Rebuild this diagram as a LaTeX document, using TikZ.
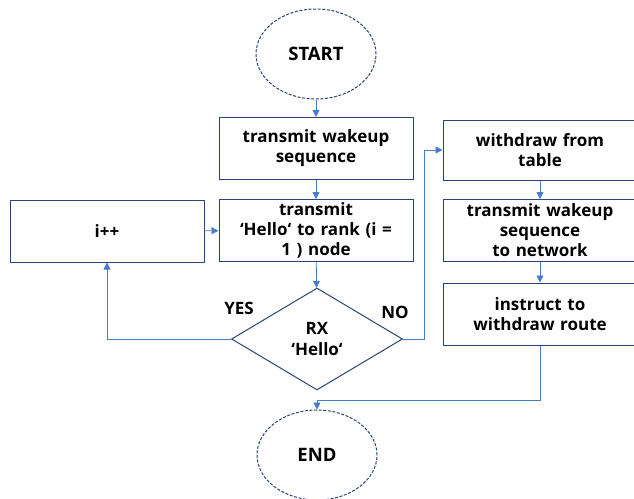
\documentclass[tikz,border=0pt]{standalone}
\usepackage{fontspec}
\setmainfont{Open Sans}
\usetikzlibrary{shapes.geometric, arrows.meta}
\definecolor{boxline}{HTML}{2B4570}
\definecolor{flowline}{HTML}{4A7BCB}
\tikzset{
  stepbox/.style={draw=boxline, line width=1pt, minimum width=194pt, minimum height=62pt,
    text width=188pt, align=center, inner sep=0pt, font=\bfseries\fontsize{17}{20}\selectfont},
  termnode/.style={ellipse, draw=boxline, line width=1pt, dash pattern=on 3pt off 1.6pt,
    minimum width=120pt, minimum height=90pt, inner sep=0pt, font=\bfseries\fontsize{18.5}{20}\selectfont},
  decide/.style={diamond, draw=boxline, line width=1pt, minimum width=171pt, minimum height=102pt,
    aspect=1.7, inner sep=0pt, align=center, font=\bfseries\fontsize{17}{21}\selectfont},
  flow/.style={draw=flowline, line width=0.8pt, -{Triangle[length=7pt,width=7pt]}},
  tag/.style={font=\bfseries\fontsize{17}{20}\selectfont}
}
\begin{document}
\begin{tikzpicture}[x=1pt, y=-1pt]
\clip (0,0) rectangle (634,498);  % image frame

% left column
\node[termnode] (start) at (316,54) {START};
\node[stepbox] (wakeup) at (316,148.5) {transmit wakeup\\sequence};
\node[stepbox] (hello) at (316,230.5) {transmit\\‘Hello‘ to rank (i =\\1 ) node};
\node[stepbox] (incr) at (107,231) {i++};
\node[decide] (rxhello) at (317,339) {RX\\‘Hello‘};
\node[termnode] (stop) at (317,455) {END};

% right column
\node[stepbox, minimum height=60pt] (drop) at (540,150) {withdraw from\\table};
\node[stepbox] (netwake) at (540,230.5) {transmit wakeup\\sequence\\to network};
\node[stepbox] (instruct) at (540,314) {instruct to\\withdraw route};

% branch labels
\node[tag] (yes) at (239,308) {YES};
\node[tag] (no) at (395,312) {NO};
\coordinate (merge) at (317,400);

% connectors
\draw[flow] (start) -- (wakeup);
\draw[flow] (wakeup) -- (hello);
\draw[flow] (hello) -- (rxhello);
\draw[flow] (incr) -- (hello);
\draw[flow] (rxhello.west) -| (incr.south);
\draw[flow] (rxhello.east) -- ++(21,0) |- (drop.west);
\draw[flow] (drop) -- (netwake);
\draw[flow] (netwake) -- (instruct);
\draw[flow] (instruct.south) |- (merge) -- (stop.north);
\end{tikzpicture}
\end{document}
